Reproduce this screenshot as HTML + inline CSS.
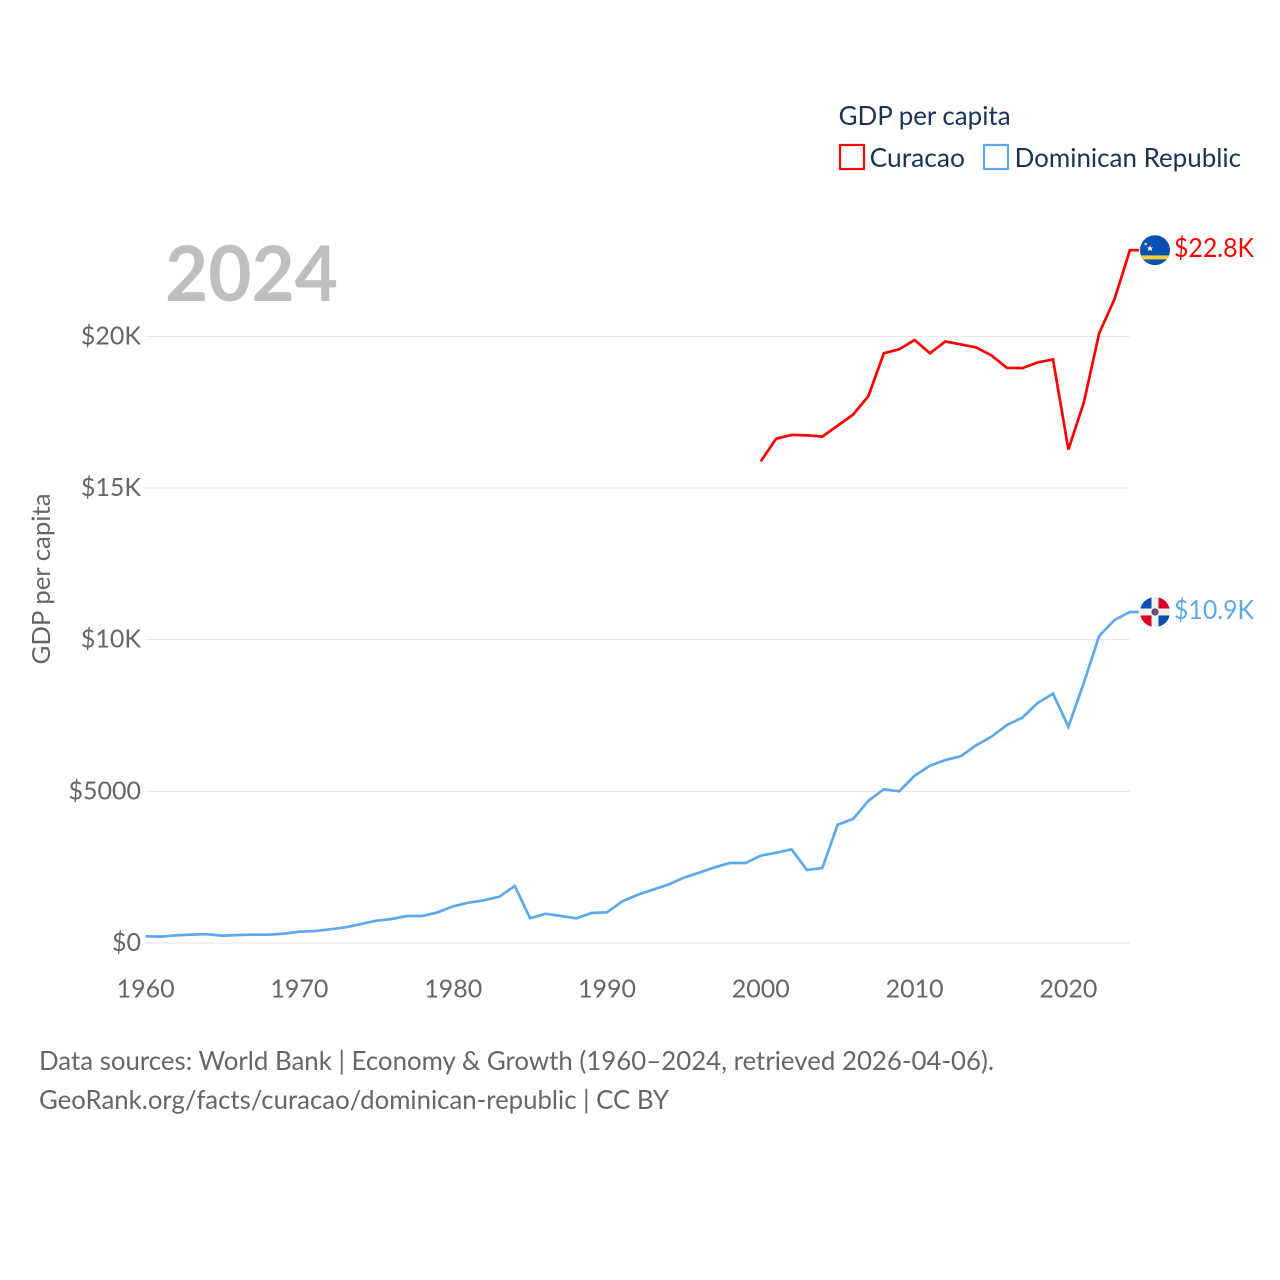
<!DOCTYPE html>
<html lang="en">
<head>
<meta charset="utf-8">
<title>GDP per capita: Curacao and Dominican Republic</title>
<style>
html,body{margin:0;padding:0;background:#fff;}
svg{display:block;}
text{font-family:"Lato","Carlito","Liberation Sans",sans-serif;}
</style>
</head>
<body>
<svg id="chart" xmlns="http://www.w3.org/2000/svg" width="1280" height="1280" viewBox="0 0 1280 1280">
  <defs>
    <clipPath id="flag-clip"><circle cx="0" cy="0" r="15"></circle></clipPath>
  </defs>
  <rect x="0" y="0" width="1280" height="1280" fill="#fff"></rect>
  <g id="grid"></g>
  <g id="yticks"></g>
  <g id="xticks"></g>
  <text x="165" y="301" font-size="77" font-weight="700" fill="#bfbfbf" textLength="173" lengthAdjust="spacingAndGlyphs">2024</text>
  <text transform="translate(50,664.5) rotate(-90)" font-size="25" fill="#666" textLength="171" lengthAdjust="spacingAndGlyphs">GDP per capita</text>
  <g id="series"></g>

  <g id="flag-curacao">
    <g clip-path="url(#flag-clip)">
      <rect x="-15" y="-15" width="30" height="30" fill="#0a50b0"></rect>
      <rect x="-15" y="5.2" width="30" height="4" fill="#f8cf3c"></rect>
      <polygon fill="#fff" points="-5,-5 -4.1,-2.7 -1.8,-2.7 -3.6,-1.2 -2.9,1.1 -5,-0.3 -7.1,1.1 -6.4,-1.2 -8.2,-2.7 -5.9,-2.7"></polygon>
      <polygon fill="#fff" points="-9.3,-8 -8.8,-6.8 -7.6,-6.7 -8.5,-5.9 -8.2,-4.7 -9.3,-5.4 -10.4,-4.7 -10.1,-5.9 -11,-6.7 -9.8,-6.8"></polygon>
    </g>
  </g>
  <g id="flag-dominican">
    <g clip-path="url(#flag-clip)">
      <rect x="-15" y="-15" width="30" height="30" fill="#f0f0f0"></rect>
      <rect x="-15" y="-15" width="11.5" height="11.5" fill="#0a50b0"></rect>
      <rect x="3.5" y="-15" width="11.5" height="11.5" fill="#d80027"></rect>
      <rect x="-15" y="3.5" width="11.5" height="11.5" fill="#d80027"></rect>
      <rect x="3.5" y="3.5" width="11.5" height="11.5" fill="#0a50b0"></rect>
      <circle cx="0" cy="0" r="3.6" fill="#2f5a8c"></circle>
      <circle cx="0" cy="0" r="2" fill="#c9304a"></circle>
    </g>
  </g>
  <g id="end-labels"></g>

  <g>
    <text x="838.6" y="125" font-size="26" fill="#1a3355" textLength="172" lengthAdjust="spacingAndGlyphs">GDP per capita</text>
    <g>
      <rect x="840" y="145" width="24" height="24" fill="#fff" stroke="#ff0000" stroke-width="2.2"></rect>
      <text x="869.6" y="167" font-size="26" fill="#1a3355" textLength="95.4" lengthAdjust="spacingAndGlyphs">Curacao</text>
    </g>
    <g>
      <rect x="984" y="145" width="24" height="24" fill="#fff" stroke="#5ea8ee" stroke-width="2.2"></rect>
      <text x="1014.6" y="167" font-size="26" fill="#1a3355" textLength="226.4" lengthAdjust="spacingAndGlyphs">Dominican Republic</text>
    </g>
  </g>

  <text x="39" y="1070" font-size="26" fill="#666" textLength="955" lengthAdjust="spacingAndGlyphs">Data sources: World Bank | Economy &amp; Growth (1960–2024, retrieved 2026-04-06).</text>
  <text x="39" y="1109" font-size="26" fill="#666" textLength="630" lengthAdjust="spacingAndGlyphs">GeoRank.org/facts/curacao/dominican-republic | CC BY</text>
</svg>
<script>
const startYear = 1960;
const yTickValues = [0, 5000, 10000, 15000, 20000];
const yTickLabels = ["$0", "$5000", "$10K", "$15K", "$20K"];
const xTickYears = [1960, 1970, 1980, 1990, 2000, 2010, 2020];
const curacaoYears = [2000,2001,2002,2003,2004,2005,2006,2007,2008,2009,2010,2011,2012,2013,2014,2015,2016,2017,2018,2019,2020,2021,2022,2023,2024];
const curacaoValues = [15880,16627,16749,16738,16693,17056,17418,18035,19442,19574,19880,19442,19832,19733,19634,19370,18963,18952,19140,19238,16270,17813,20100,21230,22840];
const dominicanYears = [1960,1961,1962,1963,1964,1965,1966,1967,1968,1969,1970,1971,1972,1973,1974,1975,1976,1977,1978,1979,1980,1981,1982,1983,1984,1985,1986,1987,1988,1989,1990,1991,1992,1993,1994,1995,1996,1997,1998,1999,2000,2001,2002,2003,2004,2005,2006,2007,2008,2009,2010,2011,2012,2013,2014,2015,2016,2017,2018,2019,2020,2021,2022,2023,2024];
const dominicanValues = [221,210,254,275,290,240,264,274,274,307,373,393,451,517,626,735,791,890,890,1012,1210,1330,1407,1527,1880,814,966,890,814,989,1012,1375,1590,1760,1929,2153,2318,2495,2637,2637,2880,2977,3087,2407,2473,3900,4088,4692,5067,5000,5515,5846,6033,6155,6518,6802,7187,7428,7913,8220,7131,8572,10122,10650,10913];
const curacaoEndLabel = "$22.8K";
const dominicanEndLabel = "$10.9K";

const NS = "http://www.w3.org/2000/svg";
const xScale = function (year) { return 145.6 + (year - startYear) * 15.38; };
const yScale = function (value) { return 943 - value * 0.030333; };
const make = function (tag, parent) {
  const el = document.createElementNS(NS, tag);
  parent.appendChild(el);
  return el;
};

const grid = document.getElementById("grid");
const yticks = document.getElementById("yticks");
const xticks = document.getElementById("xticks");
const series = document.getElementById("series");
const endLabels = document.getElementById("end-labels");

yTickValues.forEach(function (v, i) {
  const line = make("line", grid);
  
  
  line.setAttribute("x1", xScale(startYear));
  line.setAttribute("x2", xScale(2024));
  line.setAttribute("y1", yScale(v));
  line.setAttribute("y2", yScale(v));
  line.setAttribute("stroke", "#e4e4e4");
  line.setAttribute("stroke-width", "1");

  const label = make("text", yticks);
  
  
  label.setAttribute("x", 141);
  label.setAttribute("y", yScale(v) + 8);
  label.setAttribute("text-anchor", "end");
  label.setAttribute("font-size", "25");
  label.setAttribute("fill", "#666");
  label.textContent = yTickLabels[i];
});

xTickYears.forEach(function (yr) {
  const label = make("text", xticks);
  
  
  label.setAttribute("x", xScale(yr));
  label.setAttribute("y", 997.5);
  label.setAttribute("text-anchor", "middle");
  label.setAttribute("font-size", "25");
  label.setAttribute("fill", "#666");
  label.textContent = String(yr);
});

const buildPoints = function (years, values) {
  const pts = years.map(function (yr, i) {
    return xScale(yr).toFixed(2) + "," + yScale(values[i]).toFixed(2);
  });
  const last = values[values.length - 1];
  pts.push((xScale(years[years.length - 1]) + 9).toFixed(2) + "," + yScale(last).toFixed(2));
  return pts.join(" ");
};

const domLine = make("polyline", series);


domLine.setAttribute("points", buildPoints(dominicanYears, dominicanValues));
domLine.setAttribute("fill", "none");
domLine.setAttribute("stroke", "#5ea8ee");
domLine.setAttribute("stroke-width", "2.7");
domLine.setAttribute("stroke-linejoin", "miter");

const curLine = make("polyline", series);


curLine.setAttribute("points", buildPoints(curacaoYears, curacaoValues));
curLine.setAttribute("fill", "none");
curLine.setAttribute("stroke", "#ff0000");
curLine.setAttribute("stroke-width", "2.7");
curLine.setAttribute("stroke-linejoin", "miter");

const curY = yScale(curacaoValues[curacaoValues.length - 1]);
const domY = yScale(dominicanValues[dominicanValues.length - 1]);
document.getElementById("flag-curacao").setAttribute("transform", "translate(1155," + curY + ")");
document.getElementById("flag-dominican").setAttribute("transform", "translate(1155," + domY + ")");

const curLabel = make("text", endLabels);


curLabel.setAttribute("x", 1174);
curLabel.setAttribute("y", curY + 7);
curLabel.setAttribute("font-size", "26");
curLabel.setAttribute("fill", "#ff0000");
curLabel.setAttribute("textLength", "80");
curLabel.setAttribute("lengthAdjust", "spacingAndGlyphs");
curLabel.textContent = curacaoEndLabel;

const domLabel = make("text", endLabels);


domLabel.setAttribute("x", 1174);
domLabel.setAttribute("y", domY + 7);
domLabel.setAttribute("font-size", "26");
domLabel.setAttribute("fill", "#5ea8ee");
domLabel.setAttribute("textLength", "80");
domLabel.setAttribute("lengthAdjust", "spacingAndGlyphs");
domLabel.textContent = dominicanEndLabel;
</script>
</body>
</html>
